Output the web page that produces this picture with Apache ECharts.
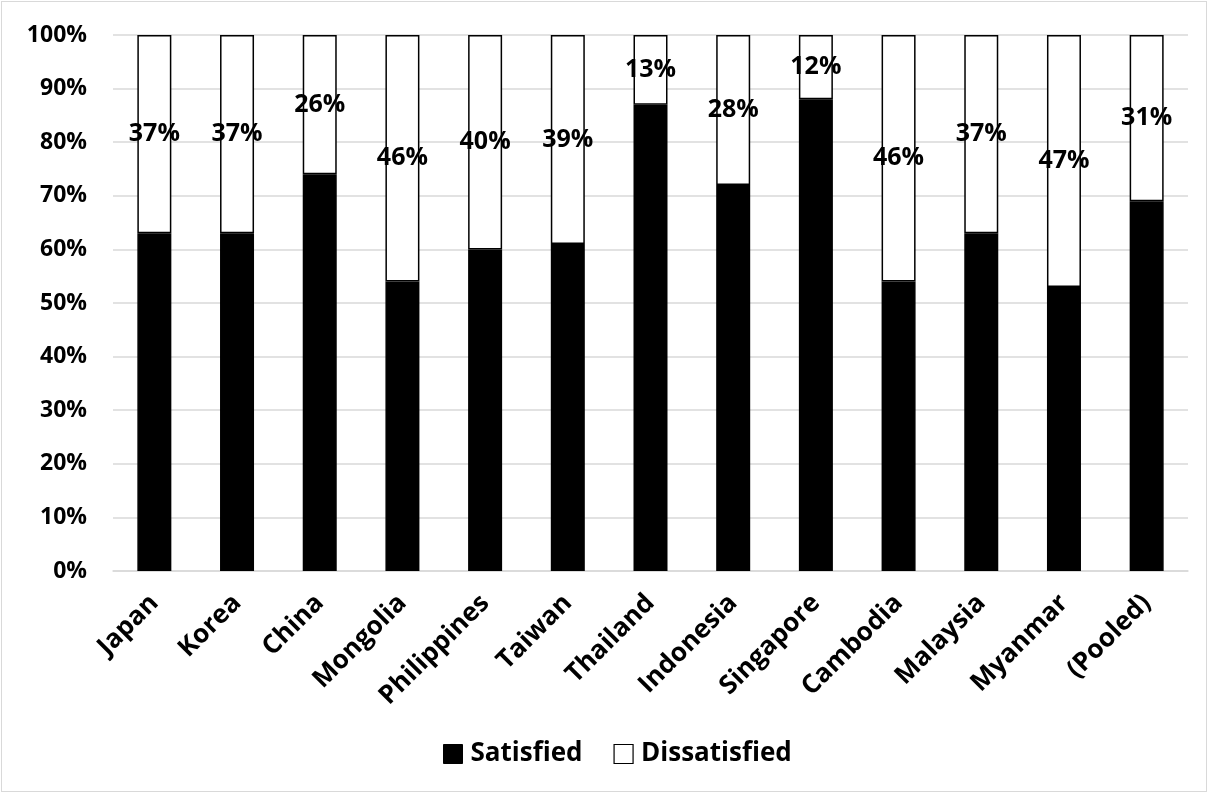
<!DOCTYPE html>
<html>
<head>
<meta charset="utf-8">
<script src="https://cdn.jsdelivr.net/npm/echarts@6/dist/echarts.min.js"></script>
<style>
  html, body { margin: 0; padding: 0; background: #ffffff; }
  #chart { position: absolute; left: 0; top: 0; width: 1208px; height: 793px; }
  #frame { position: absolute; left: 1px; top: 1px; width: 1204px; height: 789px;
           border: 1px solid #d9d9d9; pointer-events: none; }
</style>
</head>
<body>
<div id="chart"></div>
<div id="frame"></div>
<script>
// Share of respondents by country, in percent
const countries = ['Japan', 'Korea', 'China', 'Mongolia', 'Philippines', 'Taiwan',
  'Thailand', 'Indonesia', 'Singapore', 'Cambodia', 'Malaysia', 'Myanmar', '(Pooled)'];
const satisfied    = [63, 63, 74, 54, 60, 61, 87, 72, 88, 54, 63, 53, 69];
const dissatisfied = [37, 37, 26, 46, 40, 39, 13, 28, 12, 46, 37, 47, 31];
const yTicks = [0, 10, 20, 30, 40, 50, 60, 70, 80, 90, 100];

const FONT = '"Open Sans", "Noto Sans", sans-serif';

const chart = echarts.init(document.getElementById('chart'), null, { renderer: 'canvas' });

chart.setOption({
  animation: false,
  textStyle: { fontFamily: FONT },
  grid: { left: 113, right: 20, top: 35, bottom: 222, containLabel: false },
  legend: {
    top: 736,
    left: 438,
    itemWidth: 19,
    itemHeight: 19,
    itemGap: 31,
    icon: 'rect',
    textStyle: { fontFamily: FONT, fontWeight: 'bold', fontSize: 26, color: '#000', padding: [0, 0, 0, 3] },
    data: [
      { name: 'Satisfied', itemStyle: { color: '#000', borderColor: '#000', borderWidth: 1 } },
      { name: 'Dissatisfied', itemStyle: { color: '#fff', borderColor: '#000', borderWidth: 1.2 } }
    ]
  },
  xAxis: {
    type: 'category',
    data: countries,
    axisLine: { show: true, lineStyle: { color: '#d9d9d9', width: 1.5 } },
    axisTick: { show: false },
    axisLabel: {
      rotate: 45,
      margin: 28,
      interval: 0,
      fontFamily: FONT,
      fontWeight: 'bold',
      fontSize: 26,
      color: '#000'
    }
  },
  yAxis: {
    type: 'value',
    min: yTicks[0],
    max: yTicks[yTicks.length - 1],
    interval: yTicks[1] - yTicks[0],
    axisLine: { show: false },
    axisTick: { show: false },
    splitLine: { lineStyle: { color: '#d9d9d9', width: 1.5 } },
    axisLabel: {
      margin: 26,
      fontFamily: FONT,
      fontWeight: 'bold',
      fontSize: 23,
      color: '#000',
      formatter: '{value}%'
    }
  },
  series: [
    {
      name: 'Satisfied',
      type: 'bar',
      stack: 'share',
      barWidth: 34,
      data: satisfied,
      itemStyle: { color: '#000', borderColor: '#000', borderWidth: 1.5 }
    },
    {
      name: 'Dissatisfied',
      type: 'bar',
      stack: 'share',
      barWidth: 34,
      data: dissatisfied,
      itemStyle: { color: '#fff', borderColor: '#000', borderWidth: 1.5 },
      label: {
        show: true,
        position: 'inside',
        formatter: '{c}%',
        fontFamily: FONT,
        fontWeight: 'bold',
        fontSize: 25,
        color: '#000'
      }
    }
  ]
});
</script>
</body>
</html>
